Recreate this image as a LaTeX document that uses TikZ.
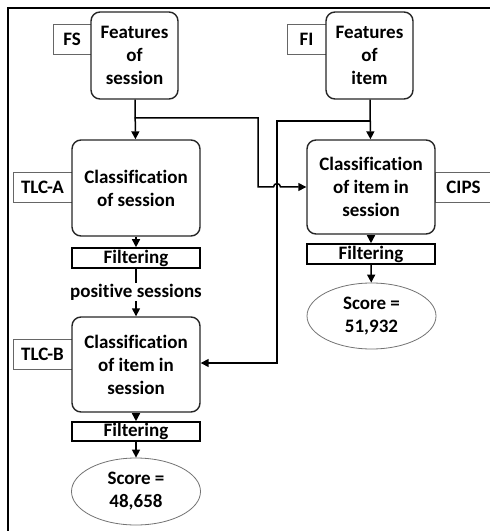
\documentclass[tikz,border=0pt]{standalone}
\usepackage{fontspec}
\setmainfont{Carlito}[Ligatures=NoCommon]
\usetikzlibrary{arrows.meta,shapes.geometric}
\tikzset{
  every node/.style={font=\fontsize{19bp}{23bp}\selectfont\bfseries, align=center, inner sep=0pt},
  procbox/.style={draw=black!85, line width=1.4bp, rounded corners=9bp, fill=white,
    minimum width=128bp, minimum height=95bp},
  featbox/.style={draw=black!85, line width=1.4bp, rounded corners=9bp, fill=white,
    minimum width=87bp, minimum height=87bp},
  tagbox/.style={draw=black!60, line width=0.8bp, fill=white, minimum height=30bp},
  filtbox/.style={draw=black, line width=1.6bp, fill=white, minimum width=128bp, minimum height=20bp},
  scorebox/.style={ellipse, draw=black!55, line width=0.8bp, fill=white,
    minimum width=129bp, minimum height=66bp},
  flow/.style={draw=black, line width=1.5bp, -{Triangle[length=8bp,width=8bp]}},
  link/.style={draw=black, line width=1.5bp},
}
\begin{document}
\begin{tikzpicture}[x=1bp,y=-1bp]
\useasboundingbox (0,0) rectangle (490,531);
% frame
\draw[line width=2.2bp] (8,540) -- (8,8) -- (500,8);

% tags
\node[tagbox, minimum width=38bp] (fstag) at (72,39) {FS};
\node[tagbox, minimum width=39bp] (fitag) at (306.5,39) {FI};
\node[tagbox, minimum width=59bp] (tlca) at (42.5,187) {TLC-A};
\node[tagbox, minimum width=59bp] (tlcb) at (42.5,354) {TLC-B};
\node[tagbox, minimum width=57bp] (cips) at (463.5,187) {CIPS};

% feature boxes
\node[featbox] (fs) at (134.5,55.5) {Features\\of\\session};
\node[featbox] (fi) at (369.5,55.5) {Features\\of\\item};

% classifiers
\node[procbox, minimum height=96bp] (cs) at (136,188) {Classification\\of session};
\node[procbox, minimum height=94bp] (cr) at (371,187) {Classification\\of item in\\session};
\node[procbox] (cb) at (136,364.5) {Classification\\of item in\\session};

% filters
\node[filtbox] (f1) at (136,258) {Filtering};
\node[filtbox] (fr) at (371,254) {Filtering};
\node[filtbox, minimum height=19bp] (f2) at (136,431.5) {Filtering};

% scores
\node[scorebox] (sr) at (371.5,316) {Score =\\51,932};
\node[scorebox, minimum height=67bp] (sl) at (136,491.5) {Score =\\48,658};

\node[inner sep=1bp] (pos) at (136,292) {positive sessions};

% branch points
\coordinate (fsb) at (134.5,118);
\coordinate (fib) at (369.5,121);
\coordinate (fsr) at (258,118);
\coordinate (fsd) at (258,187);
\coordinate (fil) at (277,121);
\coordinate (fid) at (277,363);

% connectors
\path[flow] (fs) -- (cs);
\path[flow] (fi) -- (cr);
\path[flow] (cs) -- (f1);
\path[link] (f1) -- (pos);
\path[flow] (pos) -- (cb);
\path[flow] (cb) -- (f2);
\path[flow] (f2) -- (sl);
\path[flow] (cr) -- (fr);
\path[flow] (fr) -- (sr);

% session features to the item-in-session classifier, hopping the crossing line
\path[link] (fil) -- (fid);
\path[flow] (fsb) -- (fsr) -- (fsd) -- (273.5,187)
  .. controls (273.5,182.5) and (280.5,182.5) .. (280.5,187) -- (cr.west);
% item features to the second-level classifier
\path[flow] (fib) -- (fil) -- (fid) -- (cb.east |- fid);
\end{tikzpicture}
\end{document}
